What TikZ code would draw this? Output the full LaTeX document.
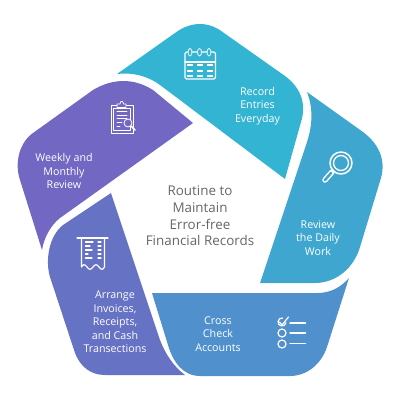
\documentclass[tikz,border=0pt]{standalone}
\usepackage{fontspec}
\setmainfont{Open Sans}
\definecolor{cteal}{HTML}{33B4D2}
\definecolor{cblue}{HTML}{3FA7CF}
\definecolor{cmid}{HTML}{5090CC}
\definecolor{cindigo}{HTML}{6672C4}
\definecolor{cpurple}{HTML}{7267C2}
\definecolor{ctext}{HTML}{666666}
\tikzset{
 lbl/.style={text=white,align=center,font=\fontsize{10.7}{13.5}\selectfont,inner sep=0pt},
 ctr/.style={text=ctext,align=center,font=\fontsize{13.4}{16.7}\selectfont,inner sep=0pt},
 ico/.style={draw=white,line width=1.2pt,line cap=round,line join=round},
 icot/.style={draw=white,line width=0.8pt,line cap=round,line join=round},
}
\begin{document}
\begin{tikzpicture}[x=1pt,y=-1pt]
\useasboundingbox (0,0) rectangle (400,400);
% segments
\fill[cteal] (117,74) -- (175,33) .. controls (191,21) and (209,21) .. (224,33) -- (285,76)
  .. controls (300,87) and (307,103) .. (301,122) -- (285,179) -- (160,85) .. controls (148,76) and (132,72) .. (117,74) -- cycle;
\fill[cblue] (307,92) -- (363,132) .. controls (379,144) and (386,160) .. (381,178) -- (360,247)
  .. controls (354,268) and (336,283) .. (315,283) -- (260,283) -- (306,145) .. controls (312,128) and (314,110) .. (307,92) -- cycle;
\fill[cmid] (349,278) -- (327,347) .. controls (321,365) and (306,376) .. (290,376) -- (200,376)
  .. controls (183,376) and (173,362) .. (168,345) -- (152,293) -- (317,293) .. controls (330,293) and (340,288) .. (349,278) -- cycle;
\fill[cindigo] (111,193) -- (160,340) .. controls (165,353) and (173,366) .. (185,375) -- (105,375)
  .. controls (90,375) and (80,366) .. (75,353) -- (50,277) .. controls (45,260) and (49,236) .. (63,225) -- cycle;
\fill[cpurple] (193,123) -- (60,218) .. controls (50,226) and (44,238) .. (42,250) -- (20,180)
  .. controls (14,162) and (20,142) .. (33,133) -- (93,90) .. controls (113,78) and (134,78) .. (153,90) -- cycle;
% labels
\node[lbl] (t1) at (257.5,106) {Record\\Entries\\Everyday};
\node[lbl] (t2) at (318,238) {Review\\the Daily\\Work};
\node[lbl] (t3) at (218,334) {Cross\\Check\\Accounts};
\node[lbl] (t4) at (115,322) {Arrange\\Invoices,\\Receipts,\\and Cash\\Transections};
\node[lbl] (t5) at (64,171) {Weekly and\\Monthly\\Review};
\node[ctr] (c) at (200,216) {Routine to\\Maintain\\Error-free\\Financial Records};
% calendar
\draw[ico,rounded corners=1.5pt] (185,52) rectangle (215.5,79);
\draw[ico] (185,62) -- (215.5,62);
\foreach \x in {190,199.5,209}{
 \draw[icot,fill=cteal,rounded corners=1.7pt] (\x-1.8,48.5) rectangle (\x+1.8,56);
}
\foreach \x in {190,200,210}{
 \foreach \y in {65,71,76}{\draw[ico] (\x-2.5,\y) -- (\x+2.5,\y);}
}
% clipboard
\draw[icot] (117,105) -- (111,105) -- (111,133) -- (133,133) -- (133,105) -- (126,105);
\draw[icot] (113.5,108) rectangle (130.5,130.5);
\draw[icot,fill=cpurple] (117,107.5) -- (117,104) -- (120,104) .. controls (120,100.5) and (123.5,100.5) .. (123.5,104) -- (126,104) -- (126,107.5) -- cycle;
\foreach \y/\e in {111/127,115/127,118/127,122/122,126/120}{\draw[icot] (117,\y) -- (\e,\y);}
\draw[icot,fill=cpurple] (128,123) circle (4);
\draw[ico,line width=1.6pt] (131,126) -- (135,130);
% magnifier
\draw[ico,line width=1.5pt] (341,163) circle (11);
\draw[ico,line width=1.3pt] (341,163) circle (7.5);
\draw[ico,line width=5.5pt] (332,172) -- (325,180);
\draw[line width=2.5pt,cblue,line cap=round] (331,173) -- (325,180);
% receipt
\draw[ico] (77,238) -- (108,238);
\draw[ico] (81.5,238) -- (81.5,267) .. controls (83,264) and (85,264) .. (87,267) .. controls (89,270) and (91,270) .. (93,267)
  .. controls (95,264) and (97,264) .. (99,267) .. controls (101,270) and (103,270) .. (104.5,267) -- (104.5,238);
\foreach \y/\e in {242/93,246/90,250/92,254/88,258/92}{\draw[ico] (85.5,\y) -- (\e,\y);\draw[ico] (98,\y) -- (101,\y);}
% checklist
\draw[ico] (282,322) ++(10:4) arc[start angle=10,end angle=280,radius=4];
\draw[ico] (279.5,322) -- (282,325) -- (288.5,317);
\draw[ico] (282,333) circle (4);
\draw[ico] (282,344) circle (4);
\draw[ico] (290,323) -- (305.5,323);
\draw[ico] (290,333) -- (305.5,333);
\draw[ico] (290,343.5) -- (305.5,343.5);
\end{tikzpicture}
\end{document}
